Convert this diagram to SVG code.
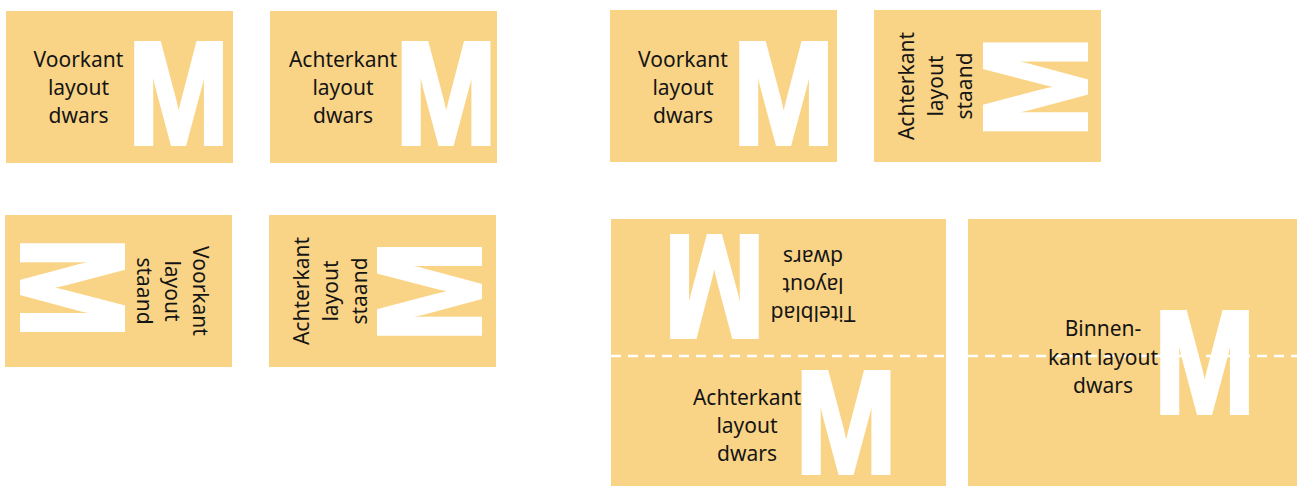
<svg xmlns="http://www.w3.org/2000/svg" width="1297" height="486" viewBox="0 0 1297 486">
<style>
.card{fill:#fad486}
.t{font-family:"Noto Sans","Open Sans",sans-serif;font-size:21px;fill:#151515;text-anchor:middle}
.m{font-family:"Liberation Sans",Arial,sans-serif;font-weight:bold;font-size:147px;fill:#fff;stroke:#fff;stroke-width:4;stroke-linejoin:miter;stroke-miterlimit:2;text-anchor:middle}
.fold{stroke:#fff;stroke-width:2.5;stroke-dasharray:10 7;fill:none}
</style>
<rect width="1297" height="486" fill="#fff"/>
<g id="voorkant-dwars-1">
<rect class="card" x="6" y="11" width="227" height="152"/>
<text class="t"><tspan x="78.5" y="67">Voorkant</tspan><tspan x="78.5" y="95">layout</tspan><tspan x="78.5" y="123">dwars</tspan></text>
<text class="m" transform="translate(178.5,144) scale(0.83,1)">M</text>
</g>
<g id="achterkant-dwars-1">
<rect class="card" x="270" y="11" width="227" height="152"/>
<text class="t"><tspan x="343" y="67">Achterkant</tspan><tspan x="343" y="95">layout</tspan><tspan x="343" y="123">dwars</tspan></text>
<text class="m" transform="translate(446,144) scale(0.83,1)">M</text>
</g>
<g id="voorkant-dwars-2">
<rect class="card" x="610" y="10" width="227" height="152"/>
<text class="t"><tspan x="683" y="67">Voorkant</tspan><tspan x="683" y="95">layout</tspan><tspan x="683" y="123">dwars</tspan></text>
<text class="m" transform="translate(783.5,144) scale(0.83,1)">M</text>
</g>
<g id="achterkant-staand-1">
<rect class="card" x="874" y="10" width="227" height="152"/>
<g transform="translate(0,86)">
<text class="t" transform="translate(914,0) rotate(-90)">Achterkant</text>
<text class="t" transform="translate(943,0) rotate(-90)">layout</text>
<text class="t" transform="translate(972,0) rotate(-90)">staand</text>
</g>
<text class="m" transform="translate(1035.5,87) rotate(-90) translate(0,50.5) scale(0.83,1)">M</text>
</g>
<g id="voorkant-staand">
<rect class="card" x="5" y="215" width="227" height="152"/>
<g transform="translate(0,291)">
<text class="t" transform="translate(193,0) rotate(90)">Voorkant</text>
<text class="t" transform="translate(165,0) rotate(90)">layout</text>
<text class="t" transform="translate(137,0) rotate(90)">staand</text>
</g>
<text class="m" transform="translate(72,287.5) rotate(90) translate(0,50.5) scale(0.83,1)">M</text>
</g>
<g id="achterkant-staand-2">
<rect class="card" x="269" y="215" width="227" height="152"/>
<g transform="translate(0,291)">
<text class="t" transform="translate(309,0) rotate(-90)">Achterkant</text>
<text class="t" transform="translate(338,0) rotate(-90)">layout</text>
<text class="t" transform="translate(367,0) rotate(-90)">staand</text>
</g>
<text class="m" transform="translate(429.5,291.5) rotate(-90) translate(0,50.5) scale(0.83,1)">M</text>
</g>
<g id="gevouwen-kaart">
<rect class="card" x="611" y="219" width="335" height="267"/>
<line class="fold" x1="611" y1="356" x2="946" y2="356"/>
<g transform="translate(813,0)">
<text class="t" transform="translate(0,306) rotate(180)">Titelblad</text>
<text class="t" transform="translate(0,278) rotate(180)">layout</text>
<text class="t" transform="translate(0,250) rotate(180)">dwars</text>
</g>
<text class="m" transform="translate(714.5,285) rotate(180) translate(0,49) scale(0.83,1)">M</text>
<text class="t"><tspan x="747" y="405">Achterkant</tspan><tspan x="747" y="433">layout</tspan><tspan x="747" y="461">dwars</tspan></text>
<text class="m" transform="translate(846,473) scale(0.83,1)">M</text>
</g>
<g id="binnenkant">
<rect class="card" x="968" y="219" width="329" height="267"/>
<line class="fold" x1="968" y1="356" x2="1297" y2="356"/>
<text class="t"><tspan x="1103" y="336">Binnen-</tspan><tspan x="1103" y="364.5">kant layout</tspan><tspan x="1103" y="393">dwars</tspan></text>
<text class="m" transform="translate(1204.5,413) scale(0.83,1)">M</text>
</g>
<g id="connectors"/>
</svg>
